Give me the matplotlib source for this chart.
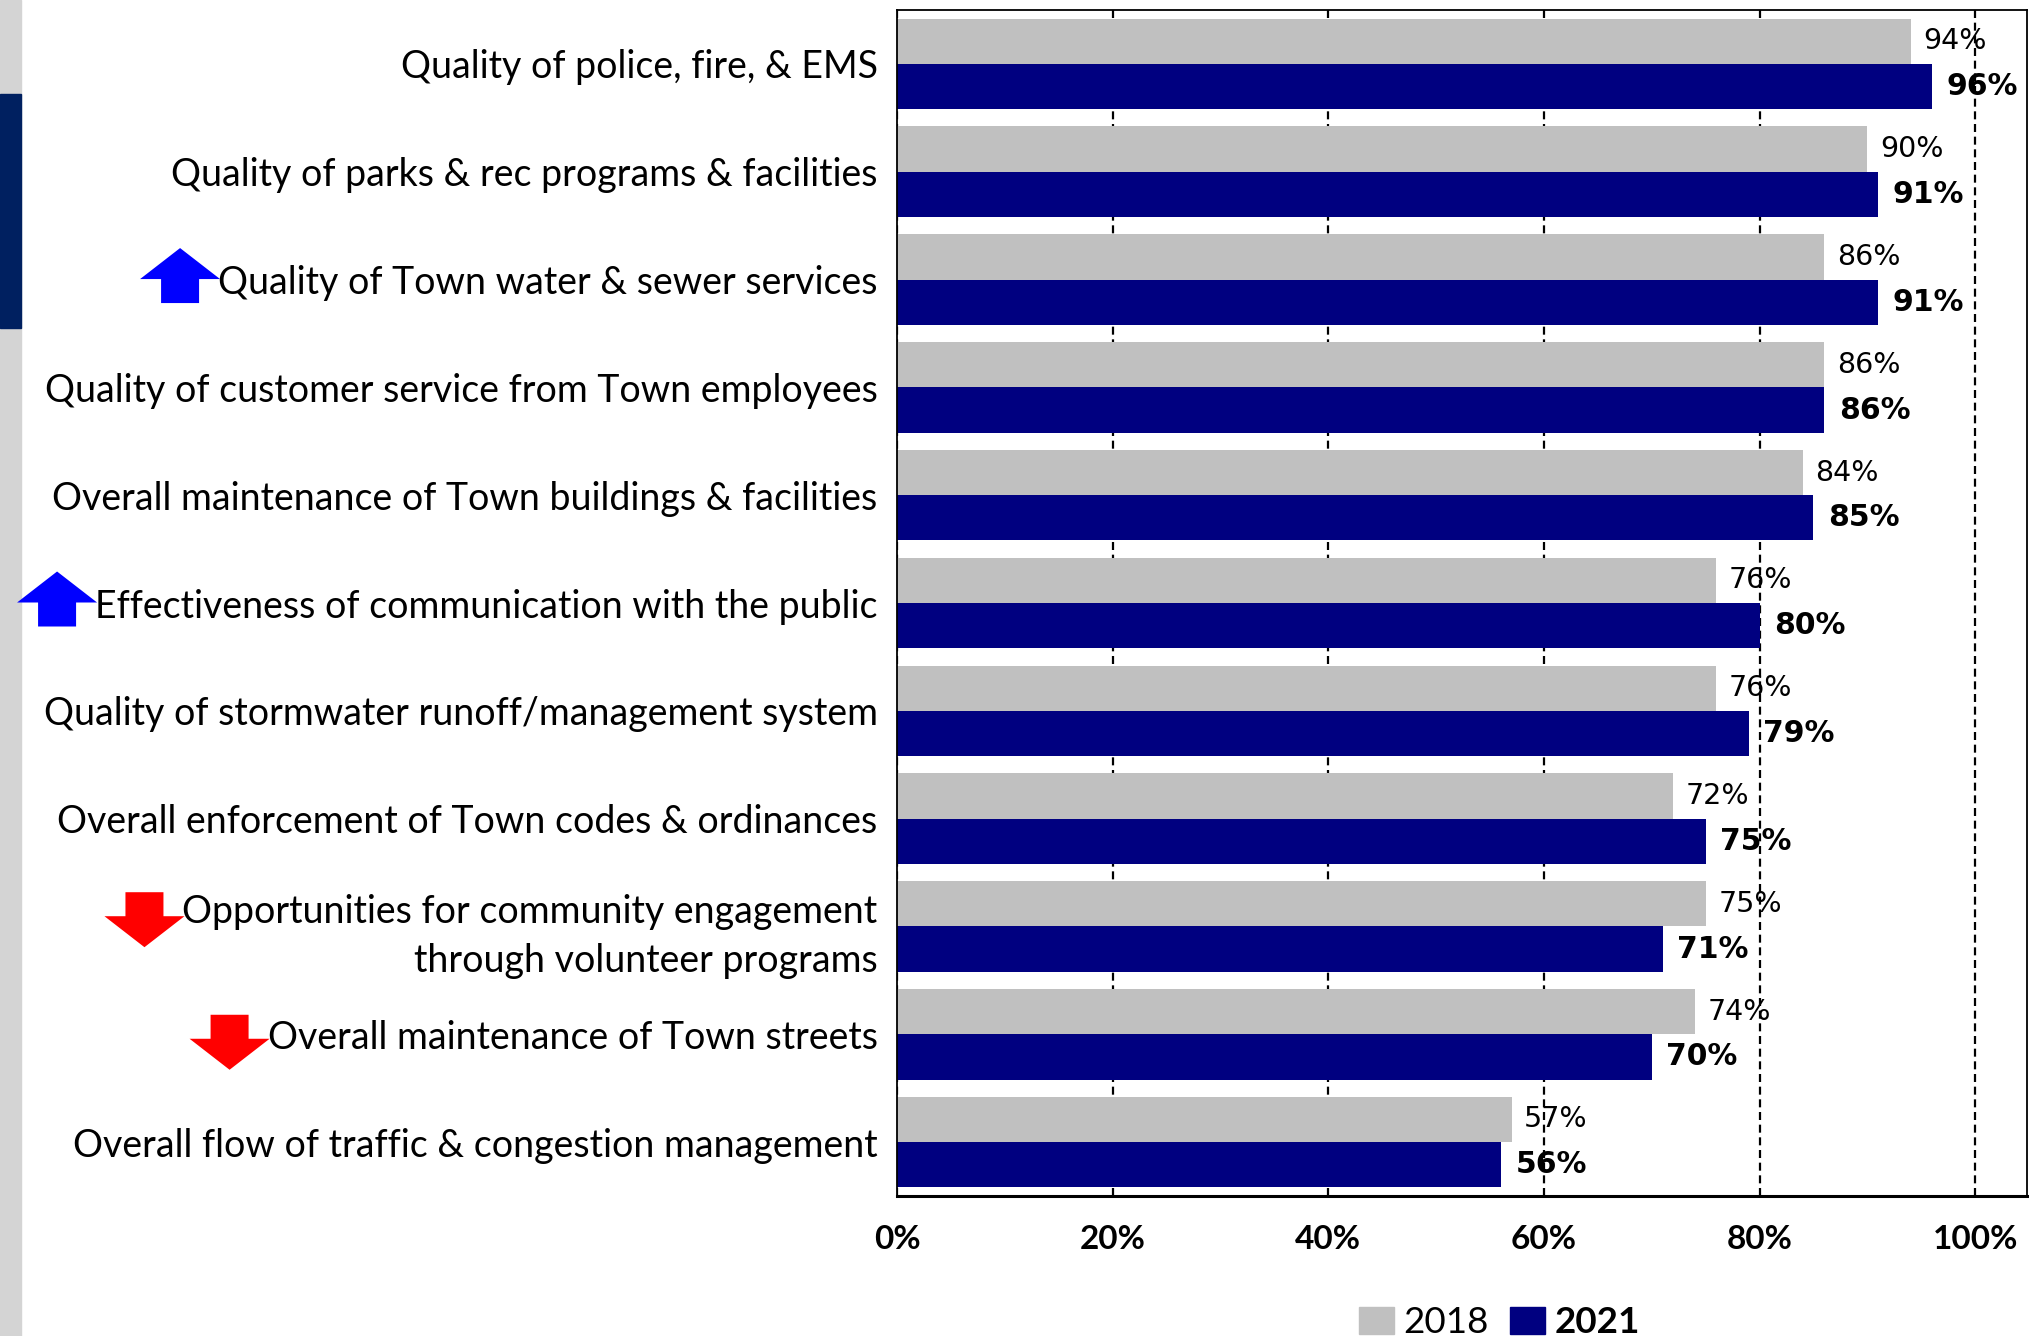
import matplotlib.pyplot as plt
from matplotlib.patches import Polygon, Rectangle, Patch

categories = [
    "Quality of police, fire, & EMS",
    "Quality of parks & rec programs & facilities",
    "Quality of Town water & sewer services",
    "Quality of customer service from Town employees",
    "Overall maintenance of Town buildings & facilities",
    "Effectiveness of communication with the public",
    "Quality of stormwater runoff/management system",
    "Overall enforcement of Town codes & ordinances",
    "Opportunities for community engagement\nthrough volunteer programs",
    "Overall maintenance of Town streets",
    "Overall flow of traffic & congestion management",
]
pct_2018 = [94, 90, 86, 86, 84, 76, 76, 72, 75, 74, 57]
pct_2021 = [96, 91, 91, 86, 85, 80, 79, 75, 71, 70, 56]
rows_up = [2, 5]
rows_down = [8, 9]
x_ticks = [0, 20, 40, 60, 80, 100]

GRAY = "#c0c0c0"
NAVY = "#000080"

fig = plt.figure(figsize=(20.29, 13.36), dpi=100)
ax = fig.add_axes([0.4421, 0.1048, 0.5569, 0.8877])

pos = list(range(len(categories)))
h = 0.42
ax.barh([p - h / 2 for p in pos], pct_2018, height=h, color=GRAY, zorder=2)
ax.barh([p + h / 2 for p in pos], pct_2021, height=h, color=NAVY, zorder=2)

for p, v in zip(pos, pct_2018):
    ax.annotate(f"{v}%", (v, p - h / 2), xytext=(9, 0), textcoords="offset points",
                va="center", ha="left", fontsize=20.5, family="DejaVu Sans", zorder=4)
for p, v in zip(pos, pct_2021):
    ax.annotate(f"{v}%", (v, p + h / 2), xytext=(10.5, 0), textcoords="offset points",
                va="center", ha="left", fontsize=21.5, fontweight="bold",
                family="DejaVu Sans", zorder=4)

ax.set_xlim(0, 104.8)
ax.set_ylim(len(categories) - 0.5, -0.5)
ax.set_xticks(x_ticks)
ax.set_xticklabels([f"{t}%" for t in x_ticks], family="Lato", fontweight="bold", fontsize=24)
ax.set_yticks(pos)
ax.set_yticklabels(categories, family="Lato", fontsize=27, linespacing=1.45)
ax.tick_params(axis="x", length=0, pad=21)
ax.tick_params(axis="y", length=0, pad=14)

ax.set_axisbelow(True)
ax.xaxis.grid(True, color="black", linewidth=1.6, linestyle=(0, (3.6, 2.1)))
for s in ax.spines.values():
    s.set_color("black")
    s.set_linewidth(1.3)
ax.spines["bottom"].set_linewidth(2.2)

# slide edge strip on the far left
fig.patches.append(Rectangle((0, 0), 21 / 2029, 1, transform=fig.transFigure,
                             color="#d4d4d4", zorder=0))
fig.patches.append(Rectangle((0, 1 - 328 / 1336), 21 / 2029, 234 / 1336,
                             transform=fig.transFigure, color="#002060", zorder=1))

# legend under the axis
handles = [Patch(color=GRAY, label="2018"), Patch(color=NAVY, label="2021")]
leg = fig.legend(handles=handles, loc="center", bbox_to_anchor=(0.739, 0.010), ncol=2,
                 frameon=False, prop={"family": "Lato", "size": 26.5},
                 handlelength=0.95, handleheight=0.75, handletextpad=0.25,
                 columnspacing=0.6, borderpad=0)
leg.get_texts()[1].set_fontweight("bold")

# change arrows next to the labels
fig.canvas.draw()
renderer = fig.canvas.get_renderer()
to_fig = fig.transFigure.inverted()
labels = ax.get_yticklabels()


def arrow(idx, up, color):
    bb = labels[idx].get_window_extent(renderer)
    nlines = categories[idx].count("\n") + 1
    cy = bb.y1 - bb.height / nlines / 2
    right = bb.x0 + 2
    head_w, shaft_w, head_len, total = 80, 38, 31, 55
    cx = right - head_w / 2
    if up:
        tip = cy + 35
        base = tip - total
        neck = tip - head_len
        pts = [(cx, tip), (cx + head_w / 2, neck), (cx + shaft_w / 2, neck),
               (cx + shaft_w / 2, base), (cx - shaft_w / 2, base),
               (cx - shaft_w / 2, neck), (cx - head_w / 2, neck)]
    else:
        top = cy + 23
        tip = top - total
        neck = tip + head_len
        pts = [(cx, tip), (cx + head_w / 2, neck), (cx + shaft_w / 2, neck),
               (cx + shaft_w / 2, top), (cx - shaft_w / 2, top),
               (cx - shaft_w / 2, neck), (cx - head_w / 2, neck)]
    pts = to_fig.transform(pts)
    fig.patches.append(Polygon(pts, closed=True, transform=fig.transFigure,
                               facecolor=color, edgecolor="none", zorder=3))


for r in rows_up:
    arrow(r, True, "#0000ff")
for r in rows_down:
    arrow(r, False, "#ff0000")

fig.savefig("out.png", dpi=100)
